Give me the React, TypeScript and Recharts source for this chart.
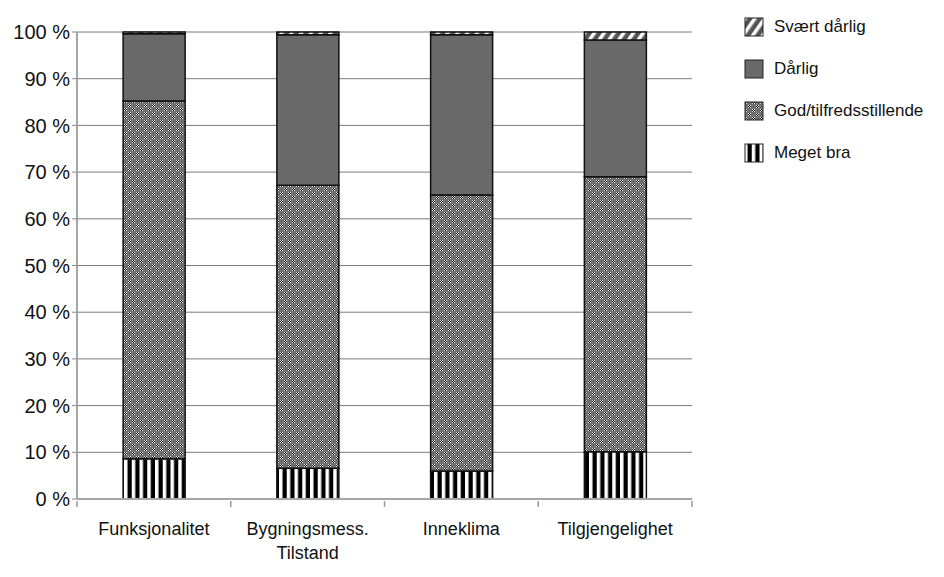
import { Bar, BarChart, CartesianGrid, XAxis, YAxis } from "recharts";

const categories = ["Funksjonalitet", "Bygningsmess.\nTilstand", "Inneklima", "Tilgjengelighet"];
const megetBra = [8.6, 6.6, 6.0, 10.1];
const god = [76.6, 60.6, 59.1, 58.9];
const darlig = [14.4, 32.2, 34.3, 29.3];
const svaertDarlig = [0.4, 0.6, 0.6, 1.7];
const yTicks = [0, 10, 20, 30, 40, 50, 60, 70, 80, 90, 100];

const data = categories.map((name, i) => ({
  name,
  megetBra: megetBra[i],
  god: god[i],
  darlig: darlig[i],
  svaertDarlig: svaertDarlig[i],
}));

const FONT = "'Liberation Sans', Arial, sans-serif";

const legendItems = [
  { label: "Svært dårlig", fill: "url(#pSvaertL)" },
  { label: "Dårlig", fill: "#696969" },
  { label: "God/tilfredsstillende", fill: "url(#pGodL)" },
  { label: "Meget bra", fill: "url(#pMegetL)" },
];

// pattern defs, reused by bars and legend swatches
const Patterns = ({ suffix = "" }: { suffix?: string }) => (
  <defs>
    <pattern id={"pMeget" + suffix} width={7.75} height={8} patternUnits="userSpaceOnUse">
      <rect width={7.75} height={8} fill="#fff" />
      <rect x={3.5} width={4.25} height={8} fill="#000" />
    </pattern>
    <pattern id={"pGod" + suffix} width={8} height={8} patternUnits="userSpaceOnUse">
      <rect width={8} height={8} fill="#6f6f6f" />
      <path d="M0 0h1v1H0zM2 0h1v1H2zM1 1h1v1H1zM0 2h1v1H0zM2 2h1v1H2zM4 4h1v1H4zM6 4h1v1H6zM5 5h1v1H5zM4 6h1v1H4zM6 6h1v1H6z" fill="#eee" />
      <path d="M1 0h1v1H1zM0 1h1v1H0zM2 1h1v1H2zM1 2h1v1H1zM5 4h1v1H5zM4 5h1v1H4zM6 5h1v1H6zM5 6h1v1H5z" fill="#111" />
    </pattern>
    <pattern id={"pSvaert" + suffix} width={8} height={8} patternUnits="userSpaceOnUse" patternTransform="rotate(35)">
      <rect width={8} height={8} fill="#555" />
      <rect x={0} width={3.5} height={8} fill="#fff" />
    </pattern>
  </defs>
);

const LegendBox = () => (
  <div style={{ position: "absolute", left: 744, top: 6, fontFamily: FONT, fontSize: 17, color: "#111" }}>
    <svg width={0} height={0} style={{ position: "absolute" }}>
      <Patterns suffix="L" />
    </svg>
    {legendItems.map((it) => (
      <div key={it.label} style={{ display: "flex", alignItems: "center", height: 42 }}>
        <svg width={20} height={20} style={{ marginRight: 10 }}>
          <rect x={1} y={1} width={18} height={18} fill={it.fill} stroke="#222" strokeWidth={1} />
        </svg>
        <span>{it.label}</span>
      </div>
    ))}
  </div>
);

const BAND = 153.75;

const CatTick = (props: any) => {
  const { x, y, payload, index } = props;
  const lines = String(payload.value).split("\n");
  return (
    <g>
      <line x1={x - BAND / 2} x2={x - BAND / 2} y1={y} y2={y + 6} stroke="#999" strokeWidth={1.5} />
      {index === categories.length - 1 && (
        <line x1={x + BAND / 2} x2={x + BAND / 2} y1={y} y2={y + 6} stroke="#999" strokeWidth={1.5} />
      )}
      <text x={x} y={y + 34} textAnchor="middle" fontFamily={FONT} fontSize={18} fill="#111">
        {lines.map((l, i) => (
          <tspan key={i} x={x} dy={i === 0 ? 0 : 24}>
            {l}
          </tspan>
        ))}
      </text>
    </g>
  );
};

export default function App() {
  return (
    <div style={{ position: "absolute", left: 0, top: 0, width: 944, height: 577, background: "#fff" }}>
      <BarChart
        width={944}
        height={577}
        data={data}
        margin={{ top: 32, right: 252, left: 0, bottom: 0 }}
        barCategoryGap="30%"
      >
        <Patterns />
        <CartesianGrid vertical={false} stroke="#7a7a7a" strokeWidth={1} />
        <XAxis
          dataKey="name"
          interval={0}
          tickLine={false}
          tickSize={0}
          axisLine={{ stroke: "#a6a6a6", strokeWidth: 2 }}
          tick={<CatTick />}
          height={78}
        />
        <YAxis
          width={77}
          domain={[0, 100]}
          ticks={yTicks}
          interval={0}
          tickFormatter={(v) => `${v} %`}
          axisLine={{ stroke: "#a6a6a6", strokeWidth: 2 }}
          tickLine={{ stroke: "#888" }}
          tickSize={5}
          tick={{ fontFamily: FONT, fontSize: 20, fill: "#111" }}
        />
        <Bar dataKey="megetBra" stackId="a" fill="url(#pMeget)" stroke="#111" strokeWidth={1.5} isAnimationActive={false} />
        <Bar dataKey="god" stackId="a" fill="url(#pGod)" stroke="#111" strokeWidth={1.5} isAnimationActive={false} />
        <Bar dataKey="darlig" stackId="a" fill="#696969" stroke="#111" strokeWidth={1.5} isAnimationActive={false} />
        <Bar dataKey="svaertDarlig" stackId="a" fill="url(#pSvaert)" stroke="#111" strokeWidth={1.5} isAnimationActive={false} />
      </BarChart>
      <LegendBox />
    </div>
  );
}
